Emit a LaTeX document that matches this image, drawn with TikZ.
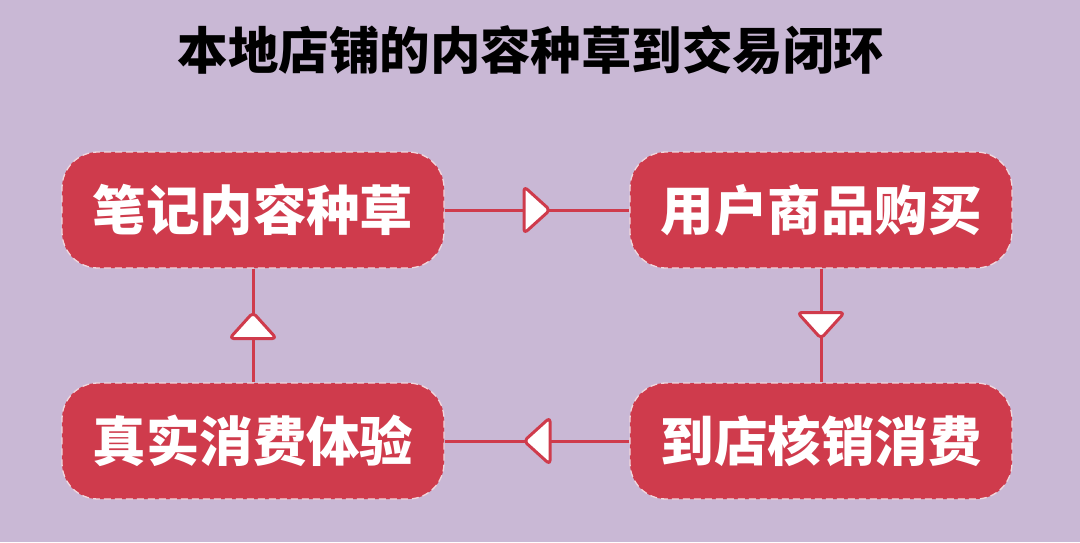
\documentclass[tikz,border=0pt]{standalone}
\usepackage{fontspec}
\setmainfont{Noto Sans CJK SC}
\usetikzlibrary{positioning, decorations.markings}
\definecolor{bgpurple}{RGB}{201,184,213}
\definecolor{boxred}{RGB}{207,59,76}
\definecolor{dashpink}{RGB}{240,215,222}

\tikzset{
  stagebox/.style={draw=dashpink, fill=boxred, dashed, dash pattern=on 7pt off 4pt,
    line width=1.3pt, rounded corners=36pt, minimum width=382pt, minimum height=116pt,
    text=white, font=\bfseries\fontsize{53.5}{53.5}\selectfont},
  flowline/.style={draw=boxred, line width=3pt,
    postaction={decorate, decoration={markings, mark=at position 0.5 with {
      \draw[boxred, fill=white, line width=3pt, line join=round, rounded corners=4pt]
        (-13,-23.5) -- (13,0) -- (-13,23.5) -- cycle;}}}}
}

\begin{document}
\begin{tikzpicture}[x=1pt, y=-1pt]
  \useasboundingbox[fill=bgpurple] (0,0) rectangle (1080,542);
  % title
  \node[font=\bfseries\fontsize{50.5}{50.5}\selectfont] (title) at (531,50) {本地店铺的内容种草到交易闭环};
  % four stages
  \node[stagebox] (note) at (253,210) {笔记内容种草};
  \node[stagebox] (buy) at (821,210) {用户商品购买};
  \node[stagebox] (visit) at (821,441) {到店核销消费};
  \node[stagebox] (exp) at (253,441) {真实消费体验};
  % loop
  \path[flowline] (note) -- (buy);
  \path[flowline] (buy) -- (visit);
  \path[flowline] (visit) -- (exp);
  \path[flowline] (exp) -- (note);
\end{tikzpicture}
\end{document}
